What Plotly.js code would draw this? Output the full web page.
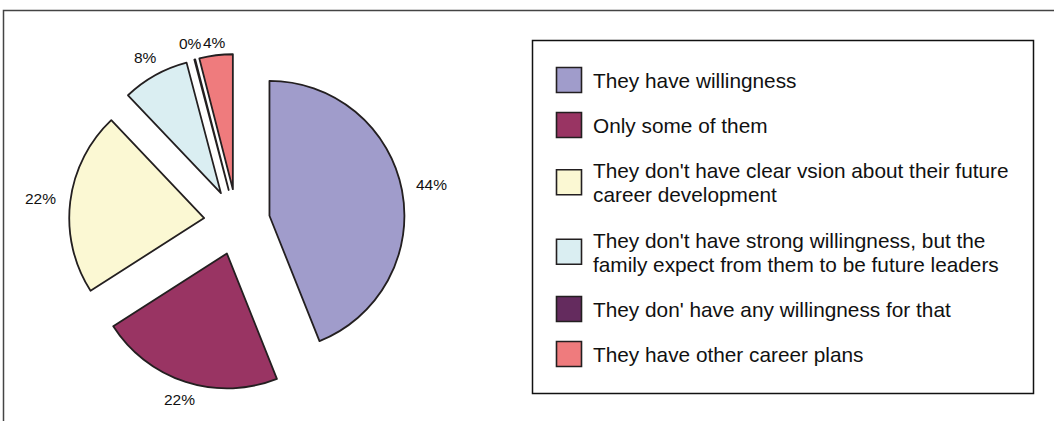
<!DOCTYPE html>
<html>
<head>
<meta charset="utf-8">
<script src="https://cdn.plot.ly/plotly-3.0.1.min.js"></script>
<style>
  html, body { margin: 0; padding: 0; background: #ffffff; }
  #chart { width: 1054px; height: 421px; }
</style>
</head>
<body>
<div id="chart"></div>
<script>
// ---- data ----
const categories = [
  "They have willingness",
  "Only some of them",
  "They don't have clear vsion about their future<br>career development",
  "They don't have strong willingness, but the<br>family expect from them to be future leaders",
  "They don' have any willingness for that",
  "They have other career plans"
];
const values = [44, 22, 22, 8, 0.1, 4];
const sliceColors = ["#a09ccb", "#993463", "#fbf8d3", "#daeef2", "#642b5e", "#ef7b7d"];

const W = 1054, H = 421;
const px = v => v / W;
const py = v => 1 - v / H;

// pie placement (pixel box of the pie domain) and explode fraction
const pieBox = { left: 69, right: 405, top: 54, bottom: 390 };
const pullFrac = 0.245;

const labelFont = { family: "Liberation Sans, Arial, sans-serif", size: 15.5, color: "#111111" };

// percentage labels placed outside each slice, along its mid-angle (derived from the values)
function percentLabels() {
  const total = values.reduce((a, b) => a + b, 0);
  const cx = (pieBox.left + pieBox.right) / 2;
  const cy = (pieBox.top + pieBox.bottom) / 2;
  const R = Math.min(pieBox.right - pieBox.left, pieBox.bottom - pieBox.top) / 2 / (1 + pullFrac);
  const gapX = 13, gapY = 3;
  const cw = { "%": 0.889 };
  let cum = 0;
  return values.map(v => {
    const s = cum / total, e = (cum + v) / total;
    cum += v;
    const th = Math.PI * (s + e);
    const dx = Math.sin(th), dy = -Math.cos(th);
    const txt = Math.round(v / total * 100) + "%";
    const w = labelFont.size * txt.split("").reduce((a, c) => a + (cw[c] || 0.556), 0);
    const h = labelFont.size * 0.95;
    const ext = Math.abs(dx) * (w / 2 + gapX) + Math.abs(dy) * (h / 2 + gapY);
    const pcx = cx + pullFrac * R * dx, pcy = cy + pullFrac * R * dy;
    const d = R + ext;
    return {
      xref: "paper", yref: "paper",
      x: px(pcx + d * dx), y: py(pcy + d * dy),
      xanchor: "center", yanchor: "middle",
      text: txt, showarrow: false, font: labelFont
    };
  });
}

const data = [{
  type: "pie",
  labels: categories,
  values: values,
  sort: false,
  direction: "clockwise",
  rotation: 0,
  pull: values.map(() => pullFrac),
  marker: { colors: sliceColors, line: { color: "#231f20", width: 1.8 } },
  textinfo: "none",
  domain: { x: [px(pieBox.left), px(pieBox.right)], y: [py(pieBox.bottom), py(pieBox.top)] },
  hoverinfo: "none"
}];

const legendFontSize = 20.8;
const layout = {
  width: W, height: H,
  margin: { l: 0, r: 0, t: 0, b: 0 },
  paper_bgcolor: "#ffffff",
  showlegend: true,
  legend: {
    x: px(553), y: py(41), xanchor: "left", yanchor: "top",
    bgcolor: "rgba(0,0,0,0)", borderwidth: 0,
    font: { family: "Liberation Sans, Arial, sans-serif", size: legendFontSize, color: "#111111" },
    itemclick: false, itemdoubleclick: false
  },
  annotations: percentLabels(),
  shapes: [
    { type: "rect", xref: "paper", yref: "paper", x0: px(3.5), x1: 1.05, y0: -0.05, y1: py(10.5),
      line: { color: "#444444", width: 1.5 }, fillcolor: "rgba(0,0,0,0)", layer: "below" },
    { type: "rect", xref: "paper", yref: "paper", x0: px(532.5), x1: px(1033.5), y0: py(393.5), y1: py(40.5),
      line: { color: "#111111", width: 1.5 }, fillcolor: "#ffffff", layer: "below" }
  ]
};

const gd = document.getElementById("chart");
Plotly.newPlot(gd, data, layout, { staticPlot: true, displayModeBar: false, responsive: false }).then(() => {
  // spread legend entries like the reference (taller rows, larger swatches, tighter line spacing)
  const topPad = 16.5, rowLineH = 24.5, rowGap = 20.5, textLineH = 24;
  const sb = gd.querySelector(".legend .scrollbox");
  if (sb) sb.removeAttribute("clip-path");
  const items = gd.querySelectorAll(".legend .traces");
  let yAcc = topPad;
  items.forEach((g, i) => {
    const lines = categories[i].split("<br>").length;
    const h = lines * rowLineH + rowGap;
    const cy = yAcc + h / 2;
    yAcc += h;
    const m = /translate\(\s*([-\d.]+)[ ,]+([-\d.]+)\s*\)/.exec(g.getAttribute("transform") || "");
    const x = m ? parseFloat(m[1]) : 0;
    g.setAttribute("transform", "translate(" + x + "," + cy + ")");
    const txt = g.querySelector("text.legendtext");
    const tx = txt ? parseFloat(txt.getAttribute("x")) || 40 : 40;
    if (txt && lines > 1) {
      const base = 0.3 * 1.3 * legendFontSize - textLineH * (lines - 1) / 2;
      txt.setAttribute("y", base);
      txt.querySelectorAll("tspan.line").forEach((t, k) => {
        t.setAttribute("y", base);
        t.setAttribute("dy", (k * textLineH) + "px");
      });
    }
    const p = g.querySelector("path.legendpie");
    if (p) {
      p.setAttribute("d", "M12.5,12.5H-12.5V-12.5H12.5Z");
      p.setAttribute("transform", "translate(" + (tx - 24) + ",0)");
      p.style.strokeWidth = "1.6px";
      p.style.stroke = "#231f20";
    }
  });
});
</script>
</body>
</html>
